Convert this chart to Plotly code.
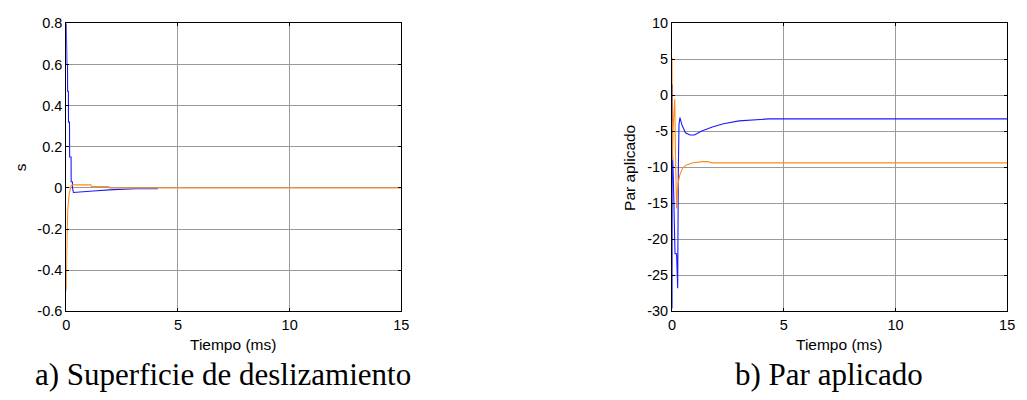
import plotly.graph_objects as go

# ---- data: left panel (sliding surface s) ----
s_blue_t = [0, 0.005, 0.02, 0.03, 0.055, 0.06, 0.095, 0.10, 0.145, 0.15, 0.215, 0.22, 0.275, 0.28, 0.32, 0.80, 1.20, 2.10, 3.10, 4.10]
s_blue_v = [0.80, 0.705, 0.705, 0.60, 0.60, 0.47, 0.47, 0.32, 0.32, 0.15, 0.15, 0.03, 0.03, 0.0, -0.022, -0.02, -0.015, -0.008, -0.004, -0.004]
s_orng_t = [0, 0.01, 0.03, 0.07, 0.13, 0.22, 0.30, 1.10, 1.12, 1.90, 1.92, 15]
s_orng_v = [-0.50, -0.39, -0.26, -0.10, -0.03, 0.012, 0.015, 0.015, 0.007, 0.007, 0.0, 0.0]

# ---- data: right panel (applied torque) ----
p_blue_t = [0, 0.01, 0.02, 0.06, 0.10, 0.13, 0.20, 0.25, 0.28, 0.31, 0.35, 0.45, 0.60, 0.80, 1.00, 1.30, 1.80, 2.30, 3.00, 3.70, 4.30, 15]
p_blue_v = [-29.6, 1.5, -8, -12, -16, -22, -22, -26.8, -10, -4, -3.1, -4.2, -5.2, -5.5, -5.5, -5.0, -4.4, -3.95, -3.55, -3.4, -3.27, -3.27]
p_orng_t = [0, 0.01, 0.04, 0.08, 0.12, 0.15, 0.20, 0.23, 0.28, 0.35, 0.47, 0.62, 0.90, 1.35, 1.60, 1.80, 15]
p_orng_v = [5.2, -9, -5, -2.5, -0.5, -8, -15.7, -13.5, -12, -11, -10.1, -9.7, -9.4, -9.2, -9.2, -9.38, -9.38]

x_ticks = [0, 5, 10, 15]
x_ticktext = ["0", "5", "10", "15"]
s_ticks = [-0.6, -0.4, -0.2, 0, 0.2, 0.4, 0.6, 0.8]
s_ticktext = ["-0.6", "-0.4", "-0.2", "0", "0.2", "0.4", "0.6", "0.8"]
p_ticks = [-30, -25, -20, -15, -10, -5, 0, 5, 10]
p_ticktext = ["-30", "-25", "-20", "-15", "-10", "-5", "0", "5", "10"]

xlabel = "Tiempo (ms)"
ylabel_a = "s"
ylabel_b = "Par aplicado"
caption_a = "a) Superficie de deslizamiento"
caption_b = "b) Par aplicado"

BLUE = "#1a1aff"
ORANGE = "#ff8c1a"
W, H = 1027, 400
axfont = dict(family="Liberation Sans, Arial, sans-serif", size=14.5, color="#000000")
labfont = dict(family="Liberation Sans, Arial, sans-serif", size=15.5, color="#000000")

fig = go.Figure()
fig.add_trace(go.Scatter(x=s_blue_t, y=s_blue_v, mode="lines", line=dict(color=BLUE, width=1.1),
                         xaxis="x", yaxis="y", showlegend=False))
fig.add_trace(go.Scatter(x=s_orng_t, y=s_orng_v, mode="lines", line=dict(color=ORANGE, width=1.1),
                         xaxis="x", yaxis="y", showlegend=False))
fig.add_trace(go.Scatter(x=p_blue_t, y=p_blue_v, mode="lines", line=dict(color=BLUE, width=1.1),
                         xaxis="x2", yaxis="y2", showlegend=False))
fig.add_trace(go.Scatter(x=p_orng_t, y=p_orng_v, mode="lines", line=dict(color=ORANGE, width=1.1),
                         xaxis="x2", yaxis="y2", showlegend=False))

ydom = [1 - 316 / H, 1 - 16 / H]
common_x = dict(range=[0, 15], tickvals=x_ticks, ticktext=x_ticktext, showgrid=True,
                gridcolor="#9a9a9a", gridwidth=1, showline=True, linecolor="#000000", linewidth=1,
                mirror="ticks", ticks="inside", ticklen=3, tickcolor="#000000", zeroline=False,
                tickfont=axfont)
common_y = dict(showgrid=True, gridcolor="#9a9a9a", gridwidth=1, showline=True, linecolor="#000000",
                linewidth=1, mirror="ticks", ticks="inside", ticklen=3, tickcolor="#000000",
                zeroline=False, tickfont=axfont)

fig.update_layout(
    width=W, height=H, margin=dict(l=0, r=0, t=0, b=0),
    paper_bgcolor="white", plot_bgcolor="white",
    xaxis=dict(domain=[63 / W, 402 / W], anchor="y", **common_x),
    yaxis=dict(domain=ydom, anchor="x", range=[-0.6, 0.8], tickvals=s_ticks, ticktext=s_ticktext, **common_y),
    xaxis2=dict(domain=[676 / W, 1015 / W], anchor="y2", **common_x),
    yaxis2=dict(domain=ydom, anchor="x2", range=[-30, 10], tickvals=p_ticks, ticktext=p_ticktext, **common_y),
)

ann = []
ann.append(dict(text=xlabel, x=232, y=H - 351, xref="paper", yref="paper", showarrow=False, font=labfont))
ann.append(dict(text=xlabel, x=845, y=H - 351, xref="paper", yref="paper", showarrow=False, font=labfont))
ann.append(dict(text=ylabel_a, x=17, y=H - 166, xref="paper", yref="paper", showarrow=False, textangle=-90, font=labfont))
ann.append(dict(text=ylabel_b, x=633, y=H - 167, xref="paper", yref="paper", showarrow=False, textangle=-90, font=labfont))
capfont = dict(family="Liberation Serif, Times New Roman, serif", size=31, color="#000000")
ann.append(dict(text=caption_a, x=222, y=H - 382, xref="paper", yref="paper", showarrow=False, font=capfont))
ann.append(dict(text=caption_b, x=835, y=H - 382, xref="paper", yref="paper", showarrow=False, font=capfont))
for a in ann:
    a["x"] = a["x"] / W
    a["y"] = a["y"] / H
    a["xanchor"] = "center"
    a["yanchor"] = "middle"
fig.update_layout(annotations=ann)

fig.write_html("out.html")
